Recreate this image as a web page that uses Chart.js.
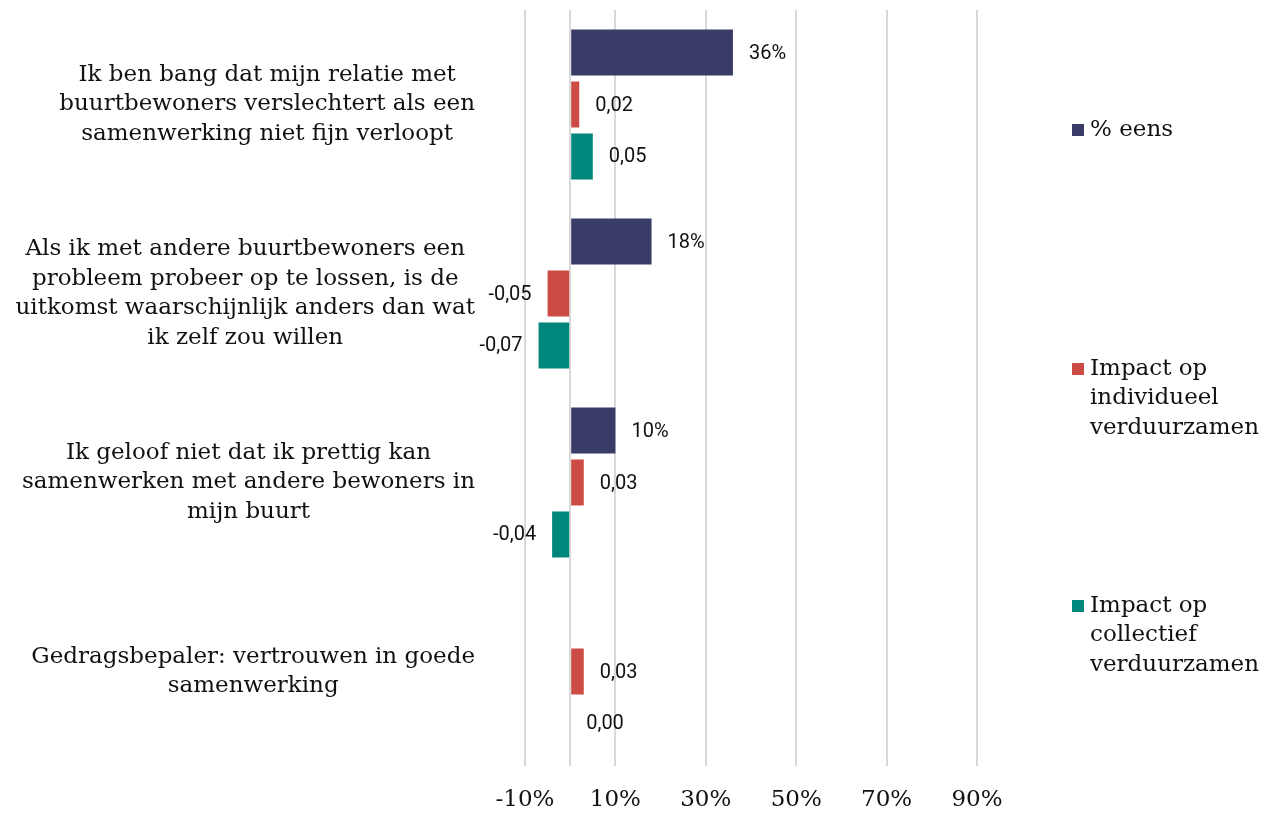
<!DOCTYPE html>
<html>
<head>
<meta charset="utf-8">
<title>Vertrouwen in goede samenwerking</title>
<script src="https://cdn.jsdelivr.net/npm/chart.js@4.4.0/dist/chart.umd.min.js"></script>
<style>
  html, body { margin: 0; padding: 0; background: #fff; }
  #wrap { width: 1279px; height: 814px; position: relative; }
</style>
</head>
<body>
<div id="wrap"><canvas id="chart"></canvas></div>
<script>
// stellingen (regels zoals ze op de as staan)
const categories = [
  ['Ik ben bang dat mijn relatie met', 'buurtbewoners verslechtert als een', 'samenwerking niet fijn verloopt'],
  ['Als ik met andere buurtbewoners een', 'probleem probeer op te lossen, is de', 'uitkomst waarschijnlijk anders dan wat', 'ik zelf zou willen'],
  ['Ik geloof niet dat ik prettig kan', 'samenwerken met andere bewoners in', 'mijn buurt'],
  ['Gedragsbepaler: vertrouwen in goede', 'samenwerking']
];

const seriesNames = ['% eens', 'Impact op individueel verduurzamen', 'Impact op collectief verduurzamen'];
const legendLines = [['% eens'], ['Impact op', 'individueel', 'verduurzamen'], ['Impact op', 'collectief', 'verduurzamen']];

const pctEens = [0.36, 0.18, 0.10, null];
const impactIndividueel = [0.02, -0.05, 0.03, 0.03];
const impactCollectief = [0.05, -0.07, -0.04, 0.00];

const xTicks = [-0.1, 0, 0.1, 0.3, 0.5, 0.7, 0.9];
const colors = ['#393c66', '#cc4b45', '#00877b'];

const SERIF = '"DejaVu Serif", "Liberation Serif", serif';
const SANS = 'Roboto, "Noto Sans", sans-serif';

const fmtPct = v => Math.round(v * 100) + '%';
const fmtDec = v => v.toFixed(2).replace('.', ',');

// labels links van de grafiek: blok rechts uitgelijnd, regels gecentreerd
const categoryLabels = {
  id: 'categoryLabels',
  afterDraw(chart) {
    const ctx = chart.ctx;
    const y = chart.scales.y;
    const right = 475, lh = 29.5;
    ctx.save();
    ctx.font = '23px ' + SERIF;
    ctx.fillStyle = '#111';
    ctx.textAlign = 'center';
    ctx.textBaseline = 'middle';
    chart.data.labels.forEach((lines, i) => {
      const w = Math.max(...lines.map(l => ctx.measureText(l).width));
      const cx = right - w / 2;
      const cy = y.getPixelForValue(i);
      lines.forEach((l, k) => {
        ctx.fillText(l, cx, cy + (k - (lines.length - 1) / 2) * lh);
      });
    });
    ctx.restore();
  }
};

// waarden naast de staven
const valueLabels = {
  id: 'valueLabels',
  afterDatasetsDraw(chart) {
    const ctx = chart.ctx;
    ctx.save();
    ctx.font = '20px ' + SANS;
    ctx.fillStyle = '#111';
    ctx.textBaseline = 'middle';
    chart.data.datasets.forEach((ds, di) => {
      const meta = chart.getDatasetMeta(di);
      meta.data.forEach((bar, i) => {
        const v = ds.data[i];
        if (v === null || v === undefined) return;
        const txt = di === 0 ? fmtPct(v) : fmtDec(v);
        if (v >= 0) {
          ctx.textAlign = 'left';
          ctx.fillText(txt, bar.x + 16, bar.y + 1);
        } else {
          ctx.textAlign = 'right';
          ctx.fillText(txt, bar.x - 16, bar.y + 1);
        }
      });
    });
    ctx.restore();
  }
};

// legenda rechts, items verspreid over de hoogte
const sideLegend = {
  id: 'sideLegend',
  afterDraw(chart) {
    const ctx = chart.ctx;
    const tops = [130, 369, 606];
    const lh = 29.5;
    ctx.save();
    ctx.font = '23px ' + SERIF;
    ctx.textAlign = 'left';
    ctx.textBaseline = 'middle';
    legendLines.forEach((lines, i) => {
      ctx.fillStyle = chart.data.datasets[i].backgroundColor;
      ctx.fillRect(1072, tops[i] - 6, 12, 12);
      ctx.fillStyle = '#111';
      lines.forEach((l, k) => ctx.fillText(l, 1090, tops[i] + k * lh));
    });
    ctx.restore();
  }
};

new Chart(document.getElementById('chart'), {
  type: 'bar',
  data: {
    labels: categories,
    datasets: [
      { label: seriesNames[0], data: pctEens, backgroundColor: colors[0] },
      { label: seriesNames[1], data: impactIndividueel, backgroundColor: colors[1] },
      { label: seriesNames[2], data: impactCollectief, backgroundColor: colors[2] }
    ]
  },
  options: {
    indexAxis: 'y',
    responsive: true,
    maintainAspectRatio: false,
    animation: false,
    categoryPercentage: 0.825,
    barPercentage: 0.885,
    layout: { padding: { left: 525, right: 302, top: 10, bottom: 2 } },
    plugins: {
      legend: { display: false },
      tooltip: { enabled: false }
    },
    scales: {
      x: {
        min: -0.1,
        max: 0.9,
        afterBuildTicks(scale) {
          scale.ticks = xTicks.map(v => ({ value: v }));
        },
        afterFit(scale) {
          scale.height = 46;
        },
        grid: { color: '#d9d9d9', lineWidth: 2, drawTicks: false },
        border: { display: false },
        ticks: {
          autoSkip: false,
          maxRotation: 0,
          padding: 20,
          color: '#111',
          font: { family: SERIF, size: 23 },
          callback: v => (Math.abs(v) < 1e-9 ? '' : fmtPct(v))
        }
      },
      y: {
        display: false,
        offset: true,
        grid: { display: false }
      }
    }
  },
  plugins: [categoryLabels, valueLabels, sideLegend]
});
</script>
</body>
</html>
